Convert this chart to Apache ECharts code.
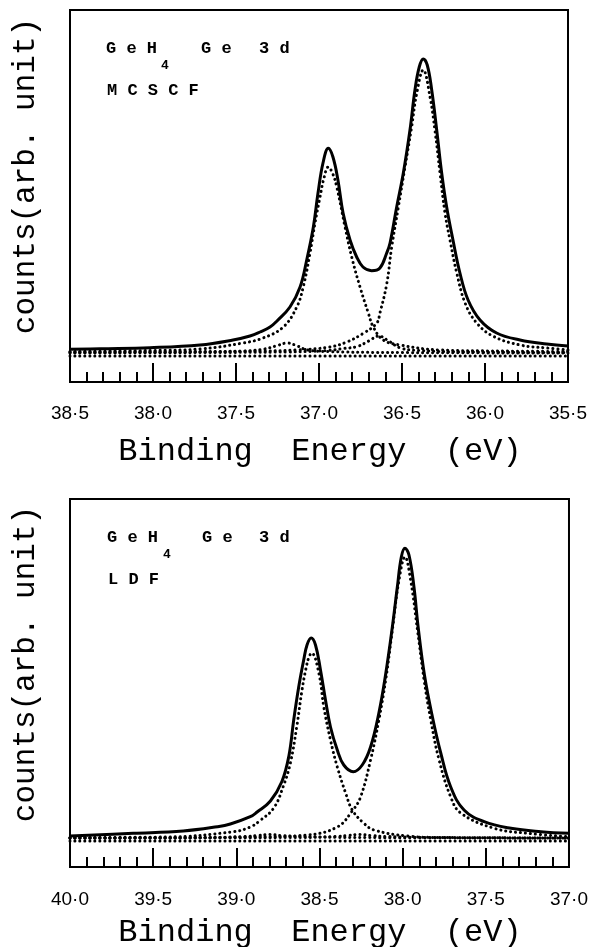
<!DOCTYPE html>
<html>
<head>
<meta charset="utf-8">
<script src="https://cdn.jsdelivr.net/npm/echarts@6/dist/echarts.min.js"></script>
<style>
  html, body { margin: 0; padding: 0; background: #fff; }
  #main { width: 591px; height: 947px; }
</style>
</head>
<body>
<div id="main"></div>
<script>
// ---- MCSCF (upper panel), binding energy in eV / counts in arb. unit ----
var mcTotalE = [38.500, 38.319, 38.018, 37.717, 37.518, 37.416, 37.355, 37.295, 37.253, 37.175, 37.114, 37.074, 37.034, 37.006, 36.976, 36.944, 36.916, 36.886, 36.855, 36.813, 36.773, 36.735, 36.683, 36.633, 36.592, 36.572, 36.532, 36.492, 36.452, 36.422, 36.396, 36.372, 36.348, 36.321, 36.291, 36.261, 36.231, 36.193, 36.151, 36.102, 36.030, 35.930, 35.789, 35.628, 35.500];
var mcTotalV = [6.7, 7.3, 8.3, 11, 16, 20, 24, 29, 35, 49, 69, 96, 129, 163, 193, 207.7, 199, 176, 143, 116, 99, 89, 85.3, 88, 103, 113, 149, 183, 226, 266, 289, 297, 291, 266, 226, 183, 149, 116, 83, 56, 36, 23, 16, 12, 10];

var mcComp1E = [38.500, 38.018, 37.717, 37.458, 37.337, 37.215, 37.134, 37.095, 37.054, 37.024, 36.994, 36.970, 36.944, 36.919, 36.893, 36.843, 36.803, 36.753, 36.703, 36.673, 36.613, 36.512, 36.271, 35.910, 35.500];
var mcComp1V = [4.5, 5.5, 7, 13, 18, 29, 49, 69, 103, 133, 159, 178, 189, 183, 169, 129, 99, 69, 43, 29, 16, 11, 6, 5, 4.5];

var mcComp2E = [38.500, 37.717, 37.337, 37.134, 36.934, 36.833, 36.733, 36.653, 36.633, 36.592, 36.562, 36.522, 36.482, 36.442, 36.411, 36.372, 36.331, 36.301, 36.271, 36.241, 36.211, 36.170, 36.120, 36.050, 35.950, 35.789, 35.628, 35.500];
var mcComp2V = [4, 4.5, 5, 6, 9, 14, 22.7, 32.7, 43, 72, 109, 149, 189, 229, 263, 286, 259, 225, 183, 143, 116, 83, 53, 33, 19.7, 11, 8, 6];

var mcSat1E = [38.50, 37.70, 37.45, 37.33, 37.26, 37.19, 37.13, 37.07, 36.95, 36.60, 35.50];
var mcSat1V = [3.5, 4, 5, 7, 10, 13, 10, 6, 4.5, 3.5, 3];

var mcSat2E = [38.50, 37.20, 36.95, 36.85, 36.77, 36.70, 36.64, 36.58, 36.51, 36.40, 36.10, 35.50];
var mcSat2V = [3, 4, 5.5, 7.5, 9.5, 15, 20, 15, 8, 5.5, 4, 3.5];

var mcBaseE = [38.5, 35.5];
var mcBaseV = [0, 0];

// ---- LDF (lower panel) ----
var ldfTotalE = [40.000, 39.620, 39.319, 39.114, 39.036, 38.916, 38.875, 38.795, 38.726, 38.684, 38.655, 38.625, 38.595, 38.575, 38.550, 38.524, 38.494, 38.464, 38.434, 38.393, 38.354, 38.297, 38.243, 38.193, 38.143, 38.102, 38.062, 38.032, 38.008, 37.986, 37.962, 37.932, 37.907, 37.869, 37.821, 37.771, 37.711, 37.631, 37.510, 37.349, 37.169, 37.000];
var ldfTotalV = [5, 7.7, 10, 14.3, 17, 24.3, 29, 40, 59.5, 85, 121, 154, 181, 196, 203, 196, 171, 141, 114, 91, 76, 69.3, 76, 94, 128, 167, 214, 254, 284, 292.7, 286, 254, 214, 166, 124, 88, 54, 31, 19.3, 12.7, 9.3, 7.7];

var ldfComp1E = [40.000, 39.417, 39.016, 38.916, 38.861, 38.775, 38.717, 38.675, 38.636, 38.606, 38.582, 38.563, 38.547, 38.504, 38.474, 38.434, 38.393, 38.343, 38.303, 38.233, 38.173, 37.972, 37.771, 37.000];
var ldfComp1V = [3.5, 4, 9.3, 14, 20, 33, 55, 78, 115, 150, 172, 184, 188, 168, 134, 101, 74, 48, 31, 17.7, 11, 5, 3.5, 3];

var ldfComp2E = [40.000, 39.417, 38.916, 38.575, 38.393, 38.303, 38.253, 38.193, 38.143, 38.102, 38.062, 38.022, 37.986, 37.952, 37.911, 37.871, 37.831, 37.781, 37.711, 37.651, 37.450, 37.249, 37.008];
var ldfComp2V = [3, 3, 4, 6, 14, 30, 44, 81, 121, 161, 211, 261, 284, 261, 211, 161, 121, 81, 44, 28, 12.7, 7.7, 4.3];

var ldfSat1E = [40.00, 39.20, 38.95, 38.87, 38.80, 38.73, 38.60, 38.30, 37.00];
var ldfSat1V = [3, 3.5, 4.5, 5.5, 6.5, 5.5, 4.5, 3.5, 3];

var ldfSat2E = [40.00, 38.60, 38.40, 38.33, 38.26, 38.19, 38.10, 37.80, 37.00];
var ldfSat2V = [3, 3.5, 4.5, 5.5, 6.5, 5.5, 4.5, 3.5, 3];

var ldfBaseE = [40.0, 37.0];
var ldfBaseV = [0, 0];

// axis ranges (eV)
var mcRange = [35.5, 38.5];
var ldfRange = [37.0, 40.0];

var chart = echarts.init(document.getElementById('main'));

function pairs(xs, ys) {
    return xs.map(function (x, i) { return [x, ys[i]]; });
}

function dotLabel(v) { // 38.5 -> 38·5
    return v.toFixed(1).replace('.', '\u00b7');
}

function xAxisOpt(idx, range, margin) {
    return {
        type: 'value', gridIndex: idx, inverse: true,
        min: range[0], max: range[1], interval: 0.5,
        axisLine: { show: true, onZero: false, lineStyle: { color: '#000', width: 2 } },
        axisTick: { show: true, inside: true, length: 19, lineStyle: { color: '#000', width: 2 } },
        minorTick: { show: true, splitNumber: 5, length: 10, lineStyle: { color: '#000', width: 2 } },
        splitLine: { show: false },
        axisLabel: {
            show: true, margin: margin, color: '#000',
            fontFamily: 'Liberation Sans', fontSize: 19,
            showMinLabel: true, showMaxLabel: true,
            formatter: dotLabel
        }
    };
}

function solid(name, idx, data) {
    return {
        name: name, type: 'line', xAxisIndex: idx, yAxisIndex: idx,
        data: data, showSymbol: false, smooth: 0.4,
        lineStyle: { color: '#000', width: 3 }, z: 3
    };
}

function dotted(name, idx, data) {
    return {
        name: name, type: 'line', xAxisIndex: idx, yAxisIndex: idx,
        data: data, showSymbol: false, smooth: 0.4,
        lineStyle: { color: '#000', width: 3, type: [0.1, 4.9], cap: 'round' }, z: 2
    };
}

var monoBold = "bold 17px 'Liberation Mono'";
var subFont = "bold 13px 'Liberation Mono'";
var titleFont = "32px 'Liberation Mono'";
var yTitleFont = "31px 'Liberation Mono'";

function txt(x, y, s, font, rot) {
    return {
        type: 'text', x: x, y: y, rotation: rot || 0,
        style: { text: s, font: font, fill: '#000', align: 'left', verticalAlign: 'middle' }
    };
}

function ctxt(x, y, s, font, rot) {
    return {
        type: 'text', x: x, y: y, rotation: rot || 0,
        style: { text: s, font: font, fill: '#000', align: 'center', verticalAlign: 'middle' }
    };
}

var option = {
    animation: false,
    backgroundColor: '#fff',
    grid: [
        { left: 70, top: 10, width: 498, height: 372, show: true, borderColor: '#000', borderWidth: 2 },
        { left: 70, top: 499, width: 499, height: 368, show: true, borderColor: '#000', borderWidth: 2 }
    ],
    xAxis: [xAxisOpt(0, mcRange, 22), xAxisOpt(1, ldfRange, 23)],
    yAxis: [
        { type: 'value', gridIndex: 0, min: -26, max: 346, show: false },
        { type: 'value', gridIndex: 1, min: -26, max: 342, show: false }
    ],
    series: [
        solid('MCSCF total', 0, pairs(mcTotalE, mcTotalV)),
        dotted('MCSCF 3d5/2', 0, pairs(mcComp1E, mcComp1V)),
        dotted('MCSCF 3d3/2', 0, pairs(mcComp2E, mcComp2V)),
        dotted('MCSCF sat 1', 0, pairs(mcSat1E, mcSat1V)),
        dotted('MCSCF sat 2', 0, pairs(mcSat2E, mcSat2V)),
        dotted('MCSCF base', 0, pairs(mcBaseE, mcBaseV)),
        solid('LDF total', 1, pairs(ldfTotalE, ldfTotalV)),
        dotted('LDF 3d5/2', 1, pairs(ldfComp1E, ldfComp1V)),
        dotted('LDF 3d3/2', 1, pairs(ldfComp2E, ldfComp2V)),
        dotted('LDF sat 1', 1, pairs(ldfSat1E, ldfSat1V)),
        dotted('LDF sat 2', 1, pairs(ldfSat2E, ldfSat2V)),
        dotted('LDF base', 1, pairs(ldfBaseE, ldfBaseV))
    ],
    graphic: [
        // upper panel labels
        txt(106, 49, 'G e H', monoBold),
        txt(161, 66, '4', subFont),
        txt(201, 49, 'G e', monoBold),
        txt(259, 49, '3 d', monoBold),
        txt(107, 91, 'M C S C F', monoBold),
        ctxt(320, 452, 'Binding  Energy  (eV)', titleFont),
        ctxt(26, 176, 'counts(arb. unit)', yTitleFont, Math.PI / 2),
        // lower panel labels
        txt(107, 538, 'G e H', monoBold),
        txt(163, 555, '4', subFont),
        txt(202, 538, 'G e', monoBold),
        txt(259, 538, '3 d', monoBold),
        txt(108, 580, 'L D F', monoBold),
        ctxt(320, 933, 'Binding  Energy  (eV)', titleFont),
        ctxt(26, 664, 'counts(arb. unit)', yTitleFont, Math.PI / 2)
    ]
};

chart.setOption(option);
</script>
</body>
</html>
